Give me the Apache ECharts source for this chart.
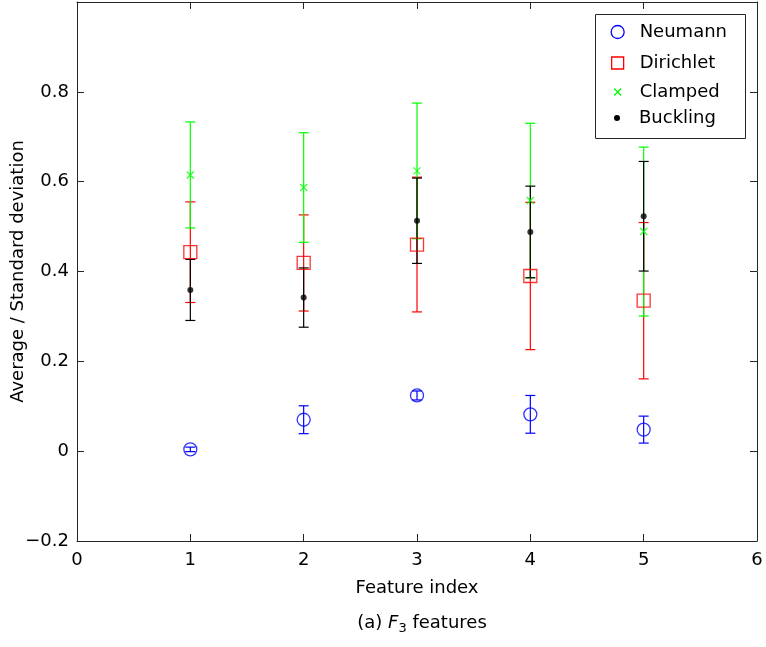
<!DOCTYPE html>
<html>
<head>
<meta charset="utf-8">
<script src="https://cdn.jsdelivr.net/npm/echarts@6/dist/echarts.min.js"></script>
<style>
html,body{margin:0;padding:0;background:#fff;}
#chart{width:766px;height:647px;}
</style>
</head>
<body>
<div id="chart"></div>
<script>
// ---- data ----
const features = [1, 2, 3, 4, 5];
const neumannMean   = [0.004, 0.070, 0.124, 0.082, 0.048];
const neumannStd    = [0.005, 0.031, 0.010, 0.042, 0.030];
const dirichletMean = [0.443, 0.419, 0.460, 0.390, 0.335];
const dirichletStd  = [0.112, 0.107, 0.150, 0.164, 0.174];
const clampedMean   = [0.615, 0.587, 0.624, 0.558, 0.489];
const clampedStd    = [0.118, 0.122, 0.151, 0.172, 0.188];
const bucklingMean  = [0.359, 0.342, 0.513, 0.488, 0.523];
const bucklingStd   = [0.068, 0.066, 0.095, 0.102, 0.122];
const seriesNames = ['Neumann', 'Dirichlet', 'Clamped', 'Buckling'];
const xTickLabels = ['0', '1', '2', '3', '4', '5', '6'];
const yTicks = [-0.2, 0, 0.2, 0.4, 0.6, 0.8, 1.0];
const yTickLabels = ['\u22120.2', '0', '0.2', '0.4', '0.6', '0.8', ''];

const FONT = 'DejaVu Sans';
const AX = '#262626';
const COLORS = ['#0000ff', '#ff0000', '#00ff00', '#000000'];
const CLEAR = 'rgba(0,0,0,0)';

function errData(mean, std) {
  return features.map((f, i) => [f, mean[i], std[i]]);
}
function errSeries(name, mean, std, color) {
  return {
    type: 'custom',
    name: name,
    xAxisIndex: 0, yAxisIndex: 0,
    data: errData(mean, std),
    encode: {x: 0, y: 1},
    itemStyle: {color: color},
    silent: true,
    renderItem: function (params, api) {
      const x = api.value(0), m = api.value(1), s = api.value(2);
      const t = api.coord([x, m + s]);
      const b = api.coord([x, m - s]);
      const hw = 5;
      const st = {stroke: color, lineWidth: 1.2};
      return {
        type: 'group',
        children: [
          {type: 'line', shape: {x1: t[0], y1: t[1], x2: b[0], y2: b[1]}, style: st},
          {type: 'line', shape: {x1: t[0] - hw, y1: t[1], x2: t[0] + hw, y2: t[1]}, style: st},
          {type: 'line', shape: {x1: b[0] - hw, y1: b[1], x2: b[0] + hw, y2: b[1]}, style: st}
        ]
      };
    }
  };
}
function pointData(mean) {
  return features.map((f, i) => [f, mean[i]]);
}

const chart = echarts.init(document.getElementById('chart'), null, {renderer: 'canvas'});

const legendCenters = [32, 63, 92, 118];
const legendIconSizes = [13, 12, 7, 6];
const legendIcons = ['circle', 'rect', 'path://M0,0L10,10M10,0L0,10', 'circle'];
const legendItemStyles = [
  {color: CLEAR, borderColor: COLORS[0], borderWidth: 1.3},
  {color: CLEAR, borderColor: COLORS[1], borderWidth: 1.3},
  {color: CLEAR, borderColor: COLORS[2], borderWidth: 1.3},
  {color: COLORS[3], borderWidth: 0}
];
const legends = seriesNames.map((n, i) => {
  const sz = legendIconSizes[i];
  const left = 617 - sz / 2;
  return {
    left: left,
    top: legendCenters[i] - 11,
    orient: 'vertical',
    padding: 0,
    z: 10,
    itemWidth: sz,
    itemHeight: sz,
    selectedMode: false,
    data: [{name: n, icon: legendIcons[i], itemStyle: legendItemStyles[i]}],
    textStyle: {
      fontFamily: FONT, fontSize: 18, color: '#000', lineHeight: 22,
      padding: [0, 0, 0, 639 - (left + sz + 5)]
    }
  };
});

const option = {
  animation: false,
  backgroundColor: '#fff',
  grid: {left: 77, right: 9, top: 2, bottom: 106, containLabel: false, outerBoundsMode: 'none'},
  title: {
    text: '(a) {i|F}{s|3} features',
    left: 417, top: 607, textAlign: 'center',
    textStyle: {
      fontFamily: FONT, fontSize: 18, fontWeight: 'normal', color: '#000',
      rich: {
        i: {fontFamily: FONT, fontSize: 18, fontStyle: 'italic', color: '#000'},
        s: {fontFamily: FONT, fontSize: 13, color: '#000', padding: [10, 0, 0, 0]}
      }
    }
  },
  legend: legends,
  graphic: [{
    type: 'rect', shape: {x: 595.5, y: 14.5, width: 150, height: 124},
    style: {fill: '#fff', stroke: AX, lineWidth: 1}, z: 3
  }],
  xAxis: [{
    type: 'value', min: 0, max: 6, interval: 1, position: 'bottom',
    name: 'Feature index', nameLocation: 'middle', nameGap: 38, nameMoveOverlap: false,
    nameTextStyle: {fontFamily: FONT, fontSize: 18, color: '#000'},
    axisLine: {show: true, onZero: false, lineStyle: {color: AX, width: 1}},
    axisTick: {show: true, inside: true, length: 7, lineStyle: {color: AX}},
    axisLabel: {
      fontFamily: FONT, fontSize: 18, color: '#000', margin: 10,
      formatter: v => xTickLabels[Math.round(v)]
    },
    splitLine: {show: false}
  }, {
    type: 'value', min: 0, max: 6, interval: 1, position: 'top',
    axisLine: {show: true, onZero: false, lineStyle: {color: AX, width: 1}},
    axisTick: {show: true, inside: true, length: 7, lineStyle: {color: AX}},
    axisLabel: {show: false}, splitLine: {show: false}
  }],
  yAxis: [{
    type: 'value', min: -0.2, max: 1.0, interval: 0.2, position: 'left',
    name: 'Average / Standard deviation', nameLocation: 'middle', nameGap: 50, nameMoveOverlap: false,
    nameTextStyle: {fontFamily: FONT, fontSize: 18, color: '#000'},
    axisLine: {show: true, onZero: false, lineStyle: {color: AX, width: 1}},
    axisTick: {show: true, inside: true, length: 7, lineStyle: {color: AX}},
    axisLabel: {
      fontFamily: FONT, fontSize: 18, color: '#000', margin: 8,
      formatter: v => {
        const idx = yTicks.findIndex(t => Math.abs(t - v) < 1e-6);
        return idx >= 0 ? yTickLabels[idx] : '';
      }
    },
    splitLine: {show: false}
  }, {
    type: 'value', min: -0.2, max: 1.0, interval: 0.2, position: 'right',
    axisLine: {show: true, onZero: false, lineStyle: {color: AX, width: 1}},
    axisTick: {show: true, inside: true, length: 7, lineStyle: {color: AX}},
    axisLabel: {show: false}, splitLine: {show: false}
  }],
  series: [
    errSeries('Neumann', neumannMean, neumannStd, COLORS[0]),
    {
      type: 'scatter', name: 'Neumann', data: pointData(neumannMean),
      symbol: 'circle', symbolSize: 13,
      itemStyle: {color: CLEAR, borderColor: COLORS[0], borderWidth: 1.3}
    },
    errSeries('Dirichlet', dirichletMean, dirichletStd, COLORS[1]),
    {
      type: 'scatter', name: 'Dirichlet', data: pointData(dirichletMean),
      symbol: 'rect', symbolSize: 13,
      itemStyle: {color: CLEAR, borderColor: COLORS[1], borderWidth: 1.3}
    },
    errSeries('Clamped', clampedMean, clampedStd, COLORS[2]),
    {
      type: 'scatter', name: 'Clamped', data: pointData(clampedMean),
      symbol: 'path://M0,0L10,10M10,0L0,10', symbolSize: 7,
      itemStyle: {color: CLEAR, borderColor: COLORS[2], borderWidth: 1.3}
    },
    errSeries('Buckling', bucklingMean, bucklingStd, COLORS[3]),
    {
      type: 'scatter', name: 'Buckling', data: pointData(bucklingMean),
      symbol: 'circle', symbolSize: 6,
      itemStyle: {color: COLORS[3]}
    }
  ]
};
chart.setOption(option);
</script>
</body>
</html>
